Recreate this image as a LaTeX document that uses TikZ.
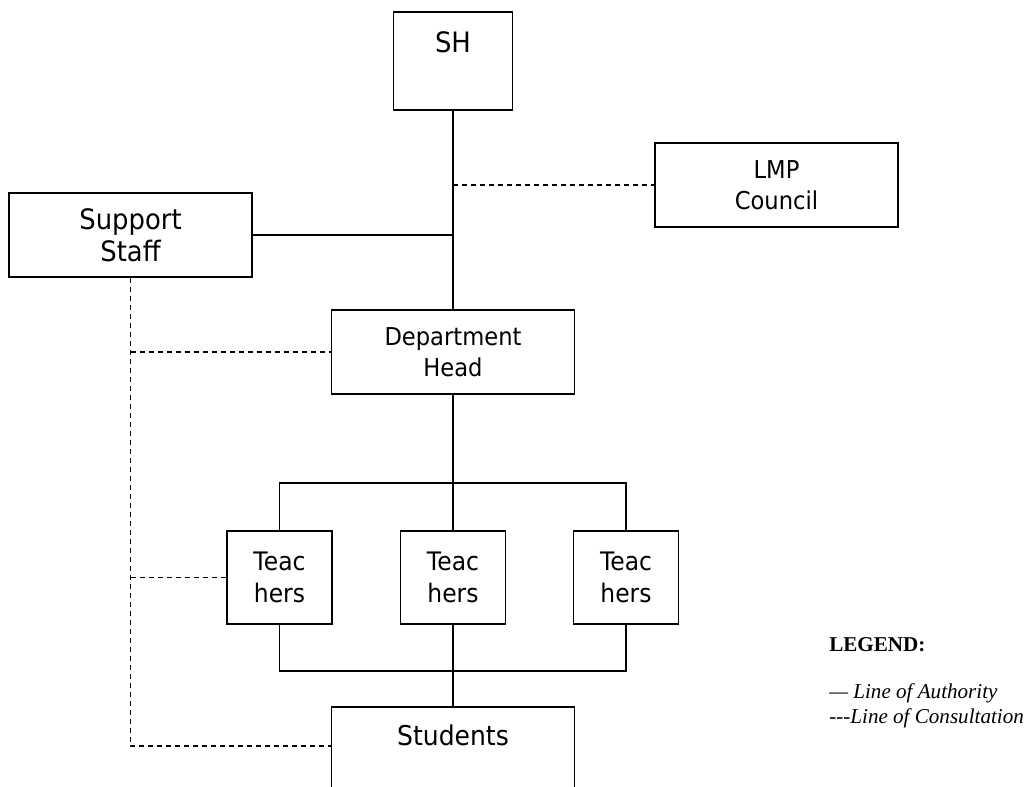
\documentclass[tikz,border=0pt]{standalone}
\usepackage{fontspec}
\setmainfont{DejaVu Sans}[FakeStretch=0.92]
\newfontfamily\legendfont{Liberation Serif}
\usepackage{tikz}
\usetikzlibrary{positioning,calc}

\begin{document}
\begin{tikzpicture}[x=0.2mm,y=-0.2mm,
    orgbox/.style={draw, line width=1pt, align=center, inner sep=0pt,
        minimum width=48.6mm, minimum height=16.8mm},
    teachbox/.style={orgbox, minimum width=21mm, minimum height=18.6mm,
        font=\fontsize{14.5}{18}\selectfont},
    authority/.style={line width=1pt},
    consult/.style={line width=1pt, dash pattern=on 1mm off 0.8mm},
    legendtext/.style={anchor=west, inner sep=0pt}]
    \useasboundingbox (0,0) rectangle (1029,786);

    % Boxes
    \node[orgbox, minimum width=23.8mm, minimum height=0pt, text height=8mm, text depth=11.6mm,
        font=\fontsize{16}{18}\selectfont] (sh) at (453,61) {SH};
    \node[orgbox, font=\fontsize{14}{17.5}\selectfont] (lmp) at (776.5,185) {LMP\\Council};
    \node[orgbox, font=\fontsize{16}{18}\selectfont] (support) at (130.5,235) {Support\\Staff};
    \node[orgbox, font=\fontsize{14}{17.5}\selectfont] (dept) at (453,352) {Department\\Head};
    \node[teachbox] (t1) at (279.5,577.5) {Teac\\hers};
    \node[teachbox] (t2) at (453,577.5) {Teac\\hers};
    \node[teachbox] (t3) at (626,577.5) {Teac\\hers};
    \node[orgbox, anchor=north, minimum height=0pt, text height=7.8mm, text depth=11mm,
        font=\fontsize{15.5}{18}\selectfont] (students) at (453,706) {Students};

    % Line of authority
    \coordinate (jlmp) at (453,185);
    \coordinate (jsup) at (453,235);
    \coordinate (bustop) at (626,483);
    \coordinate (busbot) at (626,671);
    \draw[authority] (sh) -- (dept);
    \draw[authority] (support) -- (jsup);
    \draw[authority] (dept) -- (t2);
    \draw[authority] (t1.north) |- (bustop) -- (t3.north);
    \draw[authority] (t1.south) |- (busbot) -- (t3.south);
    \draw[authority] (t2) -- (students);

    % Line of consultation
    \coordinate (sbot) at (130.5,746);
    \draw[consult] (jlmp) -- (lmp);
    \draw[consult] (support) -- (sbot) -- (sbot -| students.west);
    \draw[consult] (support.south |- dept.west) -- (dept.west);
    \draw[consult] (support.south |- t1.west) -- (t1.west);

    % Legend
    \node[legendtext, font=\legendfont\bfseries\fontsize{12}{14}\selectfont] (legend) at (829,645) {LEGEND:};
    \node[legendtext, font=\legendfont\itshape\fontsize{12}{14}\selectfont] (auth) at (829,693) {— Line of Authority};
    \node[legendtext, font=\legendfont\itshape\fontsize{12}{14}\selectfont] (cons) at (829,718) {-{}-{}-Line of Consultation};
\end{tikzpicture}
\end{document}
